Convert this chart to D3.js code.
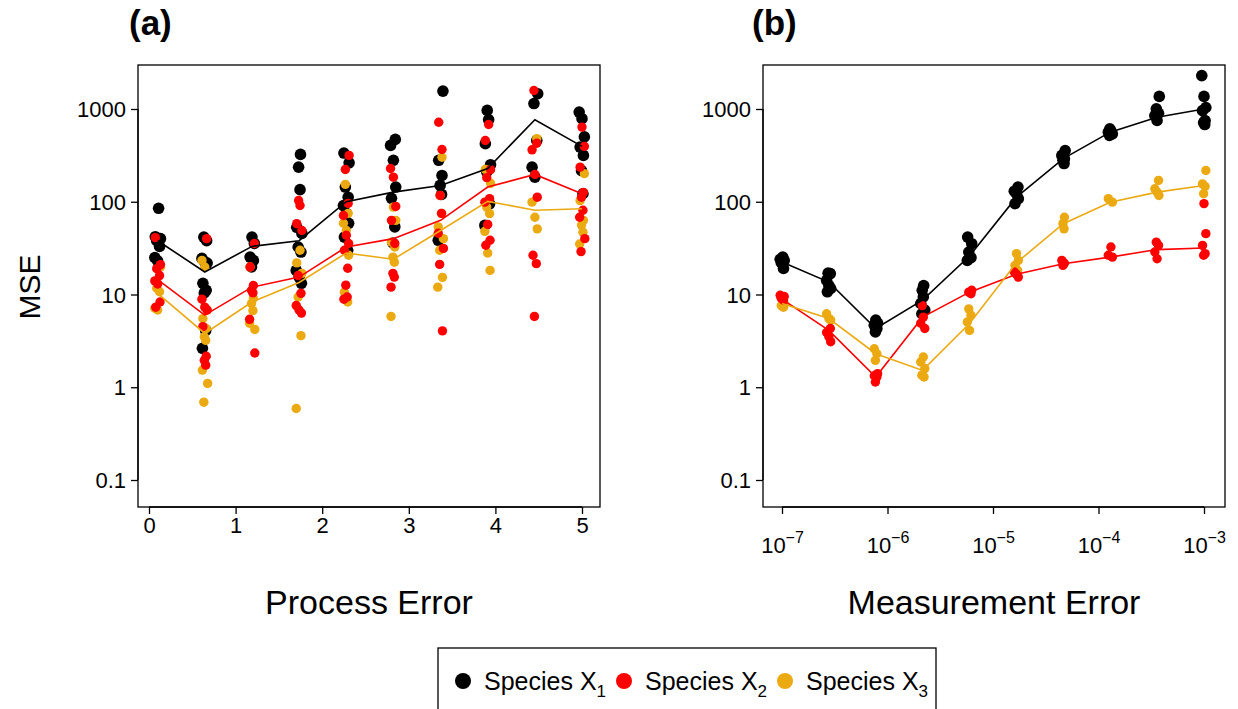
<html>
<script src='https://d3js.org/d3.v7.min.js'></script>
<style>
body { margin:0; background:#fff; }
text { font-family: "Liberation Sans", Arial, sans-serif; }
</style>
<body>
<svg width=1238 height=709></svg>
<script>

// colours for the three species
const cols = ["#000000", "#FF0000", "#EBA912"];
const species = ["Species X", "Species X", "Species X"];
const subs = ["1", "2", "3"];

// panel (a) x positions: process error levels
const procErr = [0.1, 0.644, 1.189, 1.733, 2.278, 2.822, 3.367, 3.911, 4.456, 5.0];
// panel (b) x positions: measurement error levels
const measErr = [1e-7, 2.78e-7, 7.74e-7, 2.15e-6, 5.99e-6, 1.67e-5, 4.64e-5, 1.29e-4, 3.59e-4, 1e-3];

const yTicks = [0.1, 1, 10, 100, 1000];
const yTickLabels = ["0.1", "1", "10", "100", "1000"];
const xTicksA = [0, 1, 2, 3, 4, 5];
const xTicksB = [1e-7, 1e-6, 1e-5, 1e-4, 1e-3];
const xTickExpB = ["\u22127", "\u22126", "\u22125", "\u22124", "\u22123"];

// panel (a) replicate MSE values, per level
const aX1 = [
 [85, 42, 40, 38, 33, 25, 23],
 [41.6, 38, 24.5, 22.5, 21.8, 13.2, 11.1, 10.4, 4.1, 2.63],
 [41.6, 35.5, 25.3, 23.3, 19.8],
 [324, 236, 135, 53, 45.6, 32.5, 28.7, 18.2, 15.4, 13.2],
 [335, 263, 144, 112, 91, 75, 58.6, 41.6, 30],
 [470, 405, 280, 144, 109, 53.5, 35.9],
 [1560, 280, 192, 150, 120, 38.4],
 [966, 767, 423, 251, 210, 95, 55.6],
 [1462, 1145, 458, 236, 184],
 [926, 786, 500, 389, 316, 217, 122]
];
const aX2 = [
 [41, 21, 19, 16, 14, 13, 8.3, 7.3],
 [40, 8.9, 7.3, 6.8, 4.5, 2.16, 1.95, 1.73],
 [35.5, 19.8, 12.5, 11.1, 10.4, 5.4, 2.34],
 [103, 91, 58, 49, 16, 10.3, 7.6, 6.8, 6.3],
 [316, 223, 96, 71, 43.5, 35.5, 30, 19.2, 12.6, 9.4, 8.9],
 [228, 184, 89, 63, 35.5, 16.9, 15.4, 12],
 [720, 366, 117, 75, 45.7, 31.4, 21.1, 4.05],
 [680, 458, 222, 182, 108, 99, 57, 38.5, 34],
 [1584, 428, 363, 197, 112, 26.5, 21.5, 5.8],
 [638, 395, 236, 126, 112, 81, 68, 40, 29]
];
const aX3 = [
 [19.8, 11.7, 10.7, 7.1, 6.8],
 [23.3, 19.8, 6.8, 5.5, 4.3, 3.5, 3.2, 1.53, 1.1, 0.69],
 [19.8, 9.1, 8.0, 6.7, 4.9, 4.2],
 [30, 21.9, 16.9, 9.4, 3.6, 0.59],
 [154, 75, 58.6, 49, 26.5, 10.6, 8.3],
 [87.6, 63, 36.7, 32.5, 25.3, 22.3, 5.8],
 [302, 117, 75, 53.5, 40, 30, 15.3, 12],
 [223, 158, 87.6, 74.5, 48, 28, 18.2],
 [479, 99, 68, 51],
 [201, 103, 63, 56, 47, 35]
];
// panel (a) summary lines
const aLine1 = [38, 17.5, 33, 38, 100, 127, 150, 228, 767, 395];
const aLine2 = [14.5, 6.0, 12, 15.4, 32.5, 40, 63, 144, 197, 122];
const aLine3 = [10.3, 3.8, 8.3, 13.5, 28, 24, 49, 101, 81, 84];

// panel (b) replicate MSE values
const bX1 = [
 [25.3, 24, 23.3, 22, 19.1],
 [17, 16.8, 14.2, 12.5, 11.6, 10.7],
 [5.3, 4.9, 4.65, 4.3, 3.94],
 [12.5, 11.1, 9.4, 8.0, 6.8, 6.2],
 [41.6, 35.3, 28.7, 25, 23.3],
 [144, 130, 122, 108, 95.5],
 [357, 316, 290, 280, 258],
 [610, 580, 563, 540, 520],
 [1367, 1006, 900, 850, 752],
 [2292, 1367, 1038, 960, 752, 715, 680]
];
const bX2 = [
 [9.8, 9.5, 9.1, 8.7],
 [4.3, 3.9, 3.5, 3.1],
 [1.4, 1.33, 1.29, 1.14],
 [7.6, 5.7, 4.9, 4.3],
 [11.1, 10.6, 10.2],
 [17.5, 16.5, 15.4],
 [23.3, 21.7, 20.6],
 [32.5, 26.5, 25.3],
 [36.7, 33.8, 28.7, 24.3],
 [95.5, 45.3, 33.8, 27.6, 26.5]
];
const bX3 = [
 [8.0, 7.6, 7.3],
 [6.2, 5.5, 5.3],
 [2.6, 2.3, 1.95],
 [2.12, 1.87, 1.59, 1.35, 1.29],
 [7.0, 5.97, 5.05, 4.1],
 [27.6, 23.3, 20.6, 18.2],
 [68, 58, 51],
 [108, 99],
 [170, 138, 127, 117],
 [217, 156, 146, 122]
];
const bLine1 = [22.4, 13.6, 4.3, 8.7, 26, 112, 292, 563, 816, 1000];
const bLine2 = [8.9, 4.1, 1.29, 5.7, 10.6, 16.5, 21.5, 25.3, 30.5, 31.7];
const bLine3 = [8.0, 5.5, 2.3, 1.52, 4.86, 22, 58, 99, 127, 150];

// small horizontal jitter pattern (fraction of one step)
const jit = [0.02, -0.05, 0.06, -0.02, 0.04, -0.06, 0.0, 0.05, -0.04, 0.03, -0.01];

const svg = d3.select("svg");
const font = "Liberation Sans, Arial, sans-serif";

// shared y scale
const y = d3.scaleLog().domain([0.1, 1000]).range([480, 109]);

function panel(opt) {
  const g = svg.append("g");
  const x = opt.x;

  // points: black, orange, red
  [0, 2, 1].forEach(function(s) {
    const pts = [];
    opt.pts[s].forEach(function(grp, i) {
      grp.forEach(function(v, k) {
        pts.push({i: i, v: v, j: jit[(k + i * 3 + s) % jit.length]});
      });
    });
    g.selectAll(null).data(pts).enter().append("circle")
      .attr("cx", function(d) { return opt.px(d.i, d.j); })
      .attr("cy", function(d) { return y(d.v); })
      .attr("r", s == 0 ? 5.8 : 4.7)
      .style("fill", cols[s]);
  });

  // summary lines
  [0, 1, 2].forEach(function(s) {
    const line = d3.line()
      .x(function(d, i) { return opt.px(i, 0); })
      .y(function(d) { return y(d); });
    g.append("path").attr("d", line(opt.lines[s]))
      .attr("fill", "none").attr("stroke", cols[s]).attr("stroke-width", 1.6);
  });

  // frame
  g.append("rect").attr("x", opt.box[0]).attr("y", 65)
    .attr("width", opt.box[1] - opt.box[0]).attr("height", 442)
    .attr("fill", "none").attr("stroke", "black").attr("stroke-width", 1.3);

  // y axis
  const ya = g.append("g").attr("transform", "translate(" + opt.box[0] + ",0)")
    .call(d3.axisLeft(y).tickValues(yTicks).tickSize(7).tickPadding(5)
      .tickFormat(function(d, i) { return yTickLabels[i]; }));
  ya.select(".domain").attr("d", "M0," + y(0.1) + "V" + y(1000)).attr("stroke-width", 1.3);
  ya.selectAll(".tick line").attr("stroke-width", 1.3);
  ya.selectAll("text").attr("font-size", "22px").attr("font-family", font).attr("dy", "0.35em");

  // x axis
  const xa = g.append("g").attr("transform", "translate(0,507)")
    .call(d3.axisBottom(x).tickValues(opt.xt).tickSize(7).tickPadding(3)
      .tickFormat(opt.xfmt));
  xa.select(".domain").attr("d", "M" + x(opt.xt[0]) + ",0H" + x(opt.xt[opt.xt.length - 1])).attr("stroke-width", 1.3);
  xa.selectAll(".tick line").attr("stroke-width", 1.3);
  xa.selectAll("text").attr("font-size", "22px").attr("font-family", font);
  if (opt.after) opt.after(xa);

  // panel label and axis title
  svg.append("text").attr("x", opt.lab[0]).attr("y", 35)
    .attr("font-size", "35px").attr("font-weight", "bold").text(opt.lab[1]);
  svg.append("text").attr("x", (opt.box[0] + opt.box[1]) / 2).attr("y", 614)
    .attr("text-anchor", "middle").attr("font-size", "34px").text(opt.title);
}

// panel (a)
const xa = d3.scaleLinear().domain([0, 5]).range([149, 582]);
panel({
  x: xa,
  px: function(i, j) { return xa(procErr[i] + j * 0.5444); },
  pts: [aX1, aX2, aX3],
  lines: [aLine1, aLine2, aLine3],
  box: [138, 600],
  xt: xTicksA,
  xfmt: d3.format("d"),
  lab: [129, "(a)"],
  title: "Process Error"
});

// panel (b)
const xb = d3.scaleLog().domain([1e-7, 1e-3]).range([782, 1204]);
panel({
  x: xb,
  px: function(i, j) { return xb(measErr[i] * Math.pow(10, j * 0.35)); },
  pts: [bX1, bX2, bX3],
  lines: [bLine1, bLine2, bLine3],
  box: [763, 1225],
  xt: xTicksB,
  xfmt: function() { return ""; },
  after: function(axis) {
    axis.selectAll(".tick").each(function(d, i) {
      const t = d3.select(this).append("text").attr("y", 46).attr("fill", "black")
        .attr("text-anchor", "middle").attr("font-size", "22px").attr("font-family", font);
      t.append("tspan").text("10");
      t.append("tspan").attr("dy", -10).attr("font-size", "16px").text(xTickExpB[i]);
    });
  },
  lab: [752, "(b)"],
  title: "Measurement Error"
});

// y label
svg.append("text").attr("transform", "translate(40,287) rotate(-90)")
  .attr("text-anchor", "middle").attr("font-size", "30px").text("MSE");

// legend
const lg = svg.append("g");
lg.append("rect").attr("x", 438).attr("y", 648).attr("width", 498).attr("height", 90)
  .attr("fill", "white").attr("stroke", "black").attr("stroke-width", 1.3);
const legX = [463, 624, 785];
species.forEach(function(s, i) {
  lg.append("circle").attr("cx", legX[i]).attr("cy", 681).attr("r", 8).style("fill", cols[i]);
  const t = lg.append("text").attr("x", legX[i] + 21).attr("y", 690).attr("font-size", "25px");
  t.append("tspan").text(s);
  t.append("tspan").attr("dy", 7).attr("font-size", "17px").text(subs[i]);
});

</script>
</body>
</html>
